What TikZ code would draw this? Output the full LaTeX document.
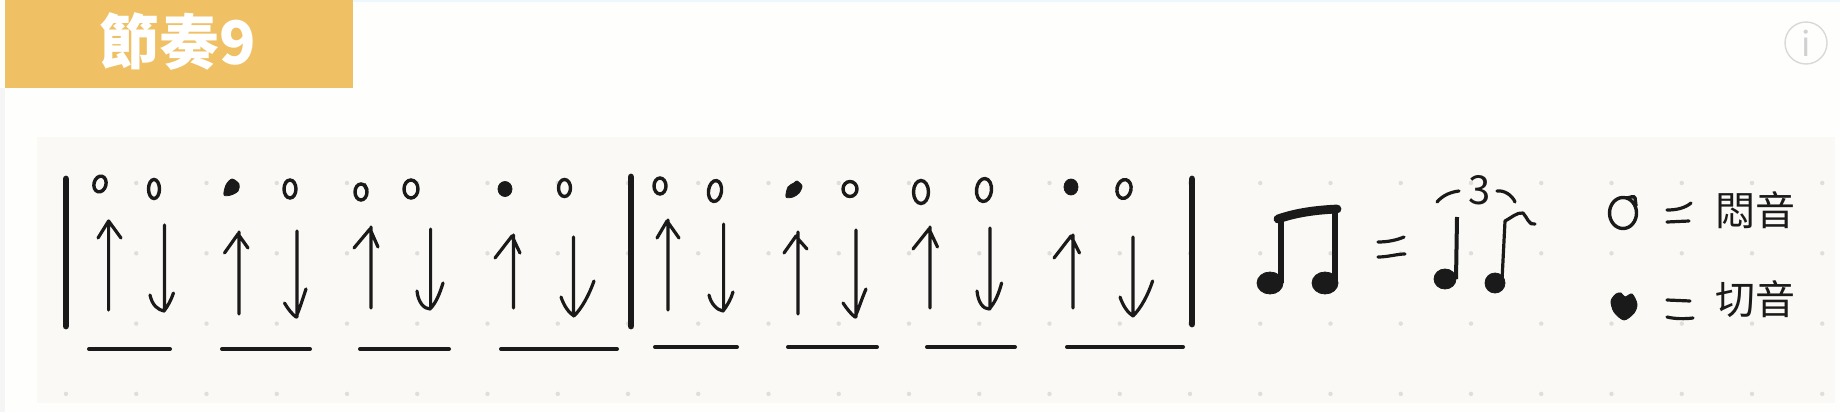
\documentclass[tikz,border=0pt]{standalone}
\usepackage{fontspec}
\usepackage{xcolor}
\newfontfamily\cjk{Noto Sans CJK TC}
\definecolor{pagebg}{HTML}{FEFEFC}
\definecolor{panelbg}{HTML}{FAF9F5}
\definecolor{titlebg}{HTML}{EFC164}
\definecolor{griddot}{HTML}{DEDEDA}
\definecolor{ink}{HTML}{1A1A1A}
\tikzset{
  pen/.style={draw=ink, line width=1.6pt, line cap=round, line join=round},
  barline/.style={draw=ink, line width=3.4pt, line cap=round},
  rule/.style={draw=ink, line width=2pt, line cap=round},
  openhead/.style={draw=ink, line width=1.7pt},
  fullhead/.style={fill=ink, draw=ink, line width=0.4pt},
}
\begin{document}
\begin{tikzpicture}[x=0.5pt, y=-0.5pt]
  \useasboundingbox (0,0) rectangle (1840,412);
  % page and panel
  \fill[pagebg] (0,0) rectangle (1840,412);
  \fill[black!4] (0,88) rectangle (5,412);
  \fill[cyan!8] (353,0) rectangle (1840,2);
  \fill[panelbg] (37,137) rectangle (1835,403);
  % title
  \fill[titlebg] (5,0) rectangle (353,88);
  \node[text=white, font=\cjk\bfseries\fontsize{30}{30}\selectfont] (title) at (178,41) {節奏9};
  % info button
  \node[circle, draw=black!15, line width=0.7pt, minimum size=21pt, inner sep=0pt, text=black!18, font=\cjk\fontsize{17}{17}\selectfont] (info) at (1806,43) {i};
  % dot grid
  \foreach \i in {0,...,25}
    \foreach \j in {0,...,3}
      \fill[griddot] (66+70.25*\i,183+70.3*\j) circle (2.2);
  % bar lines
  \draw[barline] (66,179) -- (66,326);
  \draw[barline] (631,177) -- (631,326);
  \draw[barline] (1192,179) -- (1192,324);
  % first bar, upper notes
  \draw[openhead, shift={(100,184)}, rotate=-15] (0,0) ellipse (6 and 8);
  \draw[openhead] (154,189) ellipse (5.5 and 9.5);
  \fill[fullhead] plot[smooth cycle] coordinates {(224,195) (226,185) (232,179) (239,184) (238,191) (231,195)};
  \draw[openhead] (290,189) ellipse (6 and 9);
  \draw[openhead] (361,192) ellipse (6 and 8);
  \draw[openhead] (364,184) -- (367,190);
  \draw[openhead] (411,189) ellipse (7 and 9);
  \fill[fullhead] (505,189) ellipse (7 and 7.5);
  \draw[openhead] (564.5,188) ellipse (6 and 8.5);
  % first bar, strokes
  \draw[pen] (108.6,310) -- (108.6,221) (98,238) -- (108.6,221) -- (121,238);
  \draw[pen] (164.5,225) -- (164.5,311) (150,295) .. controls (152,305) and (158,310) .. (164,311) .. controls (168,306) and (171,300) .. (173.5,293);
  \draw[pen] (239,314) -- (239,232) (224.5,253) -- (238,234) -- (248,248);
  \draw[pen] (297,231) -- (297,317) (284.5,303) .. controls (288,309) and (292,314) .. (296,317) .. controls (300,308) and (303,298) .. (306,289);
  \draw[pen] (371,308) -- (371,227) (354,248) -- (370,229) -- (378,247);
  \draw[pen] (430.6,229) -- (430.6,309) (417,291) .. controls (418,302) and (424,309) .. (430,309) .. controls (436,303) and (440,293) .. (443,283);
  \draw[pen] (513.5,308) -- (513.5,235) (495,258) -- (512,236) -- (520,253);
  \draw[pen] (573.5,237) -- (573.5,316) (561,297) .. controls (564,306) and (569,313) .. (574,316) .. controls (582,308) and (589,295) .. (594,281);
  % first bar, beat rules
  \draw[rule] (89,349) -- (170,349);
  \draw[rule] (222,349) -- (310,349);
  \draw[rule] (360,349) -- (449,349);
  \draw[rule] (501,349) -- (617,349);
  % second bar, upper notes
  \draw[openhead] (660,186) ellipse (6 and 8);
  \draw[openhead, shift={(715,191)}, rotate=-8] (0,0) ellipse (6.5 and 10.5);
  \fill[fullhead] plot[smooth cycle] coordinates {(786,197) (788,187) (794,183) (797,181) (802,186) (799,193) (793,197)};
  \draw[openhead] (850,189) ellipse (7 and 7.5);
  \draw[openhead] (921,192) ellipse (7.5 and 11.5);
  \draw[openhead, shift={(984,190)}, rotate=-6] (0,0) ellipse (7.5 and 11.5);
  \fill[fullhead] (1071,187) ellipse (7 and 8);
  \draw[openhead, shift={(1124,189)}, rotate=-12] (0,0) ellipse (7 and 9.5);
  % second bar, strokes
  \draw[pen] (668,310) -- (668,220) (657,238) -- (667,221) -- (679,238);
  \draw[pen] (723.6,224) -- (723.6,311) (709,295) .. controls (711,304) and (717,310) .. (723,311) .. controls (727,306) and (731,299) .. (733,292);
  \draw[pen] (798,314) -- (798,232) (784,253) -- (796,236) -- (799,240) -- (807,249);
  \draw[pen] (856,230) -- (856,317) (843,303) .. controls (847,309) and (851,314) .. (855,317) .. controls (859,308) and (862,298) .. (866,289);
  \draw[pen] (930,308) -- (930,227) (913,249) -- (929,229) -- (937.5,247);
  \draw[pen] (990,228) -- (990,309) (977,291) .. controls (978,302) and (983,309) .. (989,309) .. controls (995,303) and (999,293) .. (1001.6,283);
  \draw[pen] (1073,308) -- (1073,235) (1054,258) -- (1071,236) -- (1079.5,253);
  \draw[pen] (1133,237) -- (1133,316) (1120,297) .. controls (1123,306) and (1128,313) .. (1133,316) .. controls (1141,308) and (1148,295) .. (1152.6,281);
  % second bar, beat rules
  \draw[rule] (655,347) -- (737,347);
  \draw[rule] (788,347) -- (877,347);
  \draw[rule] (927,347) -- (1015,347);
  \draw[rule] (1067,347) -- (1183,347);
  % beamed pair
  \fill[fullhead, shift={(1270,283)}] (0,0) ellipse (13 and 11);
  \fill[fullhead, shift={(1325,283)}] (0,0) ellipse (13 and 11);
  \draw[draw=ink, line width=3.2pt] (1281,283) -- (1281,218);
  \draw[draw=ink, line width=3.2pt] (1335,283) -- (1335,208);
  \draw[draw=ink, line width=4.4pt, line cap=round] (1278,219) .. controls (1298,212) and (1318,210) .. (1337,209);
  % equals
  \draw[pen] (1378,242) .. controls (1388,242) and (1397,240) .. (1404,237);
  \draw[pen] (1378,257) .. controls (1388,257) and (1397,254) .. (1405,254);
  % triplet
  \fill[fullhead, shift={(1445,279)}] (0,0) ellipse (11 and 10);
  \draw[draw=ink, line width=2pt] (1456,279) -- (1457,217);
  \fill[fullhead] (1495,283) ellipse (10 and 10);
  \draw[pen] (1502,280) -- (1505,221) .. controls (1511,218) and (1517,212) .. (1523,213) .. controls (1527,217) and (1529,226) .. (1535,224);
  \draw[pen] (1437,202) .. controls (1443,195) and (1451,192) .. (1459,191);
  \draw[pen] (1497,191) .. controls (1504,190) and (1512,195) .. (1515,202);
  \node[inner sep=0pt, text=ink, font=\cjk\fontsize{20}{20}\selectfont] (triplet) at (1480,190) {3};
  % legend
  \draw[openhead] (1623,213) ellipse (13.5 and 15.5);
  \draw[openhead] (1626,198) .. controls (1630,198) and (1634,195) .. (1635,198) -- (1636,206);
  \draw[pen] (1667,210) .. controls (1677,210) and (1685,208) .. (1691,203);
  \draw[pen] (1667,222) -- (1689,221);
  \node[text=ink, inner sep=0pt, font=\cjk\fontsize{20}{20}\selectfont] (mute) at (1755,210) {悶音};
  \fill[fullhead] plot[smooth cycle] coordinates {(1611,301) (1616,294) (1621,293) (1625,297) (1632,294) (1637,304) (1634,313) (1624,320) (1614,312)};
  \draw[pen] (1667,300) -- (1690,301);
  \draw[pen] (1667,317) .. controls (1675,319) and (1685,319) .. (1693,318);
  \node[text=ink, inner sep=0pt, font=\cjk\fontsize{20}{20}\selectfont] (cut) at (1755,299) {切音};
\end{tikzpicture}
\end{document}
